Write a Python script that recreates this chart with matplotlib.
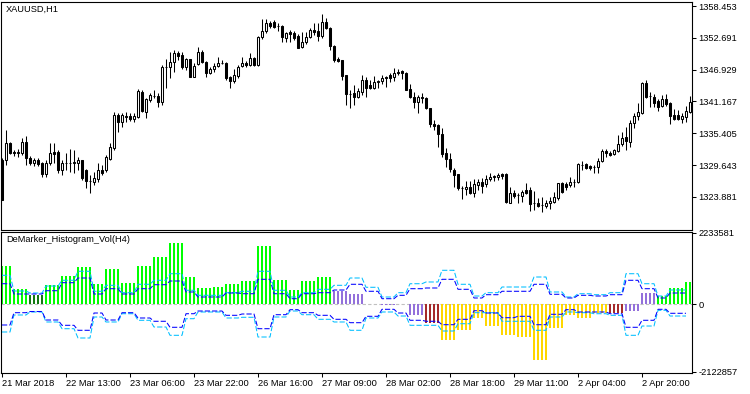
import matplotlib
matplotlib.use("Agg")
import matplotlib.pyplot as plt
import numpy as np

plt.rcParams['font.family'] = ['Liberation Sans', 'DejaVu Sans']
plt.rcParams['font.size'] = 6.7

# XAUUSD H1 candles (bar 0 = 21 Mar 2018)
opens = [1330.6, 1330.6, 1333.7, 1332.0, 1331.8, 1331.8, 1333.8, 1330.9, 1330.0, 1330.6,
         1330.0, 1328.0, 1330.0, 1332.0, 1332.0, 1328.8, 1330.0, 1330.0, 1330.0, 1330.0,
         1330.6, 1328.8, 1326.8, 1326.6, 1327.1, 1328.8, 1328.8, 1330.8, 1332.7, 1338.7,
         1337.5, 1338.4, 1338.5, 1338.0, 1338.4, 1342.9, 1339.3, 1341.4, 1342.2, 1342.2,
         1341.1, 1347.4, 1347.4, 1348.3, 1349.9, 1349.6, 1347.4, 1348.9, 1345.6, 1348.0,
         1350.1, 1348.3, 1346.3, 1347.1, 1347.6, 1348.1, 1348.1, 1345.6, 1344.9, 1345.8,
         1347.6, 1348.1, 1347.8, 1349.0, 1347.8, 1352.8, 1353.9, 1355.4, 1355.6, 1354.8,
         1354.8, 1352.7, 1353.7, 1353.6, 1353.0, 1351.0, 1351.9, 1352.8, 1354.1, 1353.9,
         1353.0, 1355.6, 1354.5, 1351.2, 1348.9, 1348.7, 1346.0, 1342.5, 1342.7, 1342.0,
         1342.9, 1345.1, 1344.2, 1343.6, 1344.7, 1344.9, 1345.6, 1346.0, 1345.6, 1346.5,
         1346.7, 1346.3, 1343.4, 1342.0, 1341.1, 1342.0, 1341.8, 1340.0, 1337.1, 1336.9,
         1335.3, 1331.8, 1330.8, 1328.8, 1328.0, 1325.5, 1325.3, 1325.7, 1324.6, 1326.1,
         1326.6, 1326.2, 1327.1, 1327.5, 1327.5, 1328.0, 1328.0, 1322.8, 1324.6, 1324.2,
         1324.1, 1325.2, 1325.2, 1322.8, 1322.8, 1322.4, 1322.2, 1322.8, 1323.0, 1323.7,
         1326.4, 1326.2, 1326.1, 1326.6, 1326.6, 1329.7, 1329.9, 1329.5, 1329.3, 1329.3,
         1330.4, 1332.2, 1331.8, 1331.7, 1332.2, 1333.5, 1334.7, 1333.8, 1337.3, 1338.5,
         1339.1, 1344.5, 1342.2, 1342.0, 1341.3, 1340.4, 1341.6, 1340.9, 1338.7, 1338.7,
         1338.0, 1338.4, 1339.3]
highs = [1330.9, 1336.0, 1333.8, 1332.4, 1332.6, 1334.6, 1334.9, 1331.3, 1330.9, 1330.9,
         1330.2, 1330.6, 1333.7, 1333.7, 1332.4, 1330.6, 1331.8, 1332.6, 1332.4, 1331.1,
         1330.6, 1328.9, 1327.9, 1328.4, 1330.0, 1329.7, 1331.5, 1333.7, 1339.3, 1339.1,
         1339.1, 1339.3, 1339.1, 1339.1, 1343.4, 1343.3, 1341.8, 1342.7, 1343.3, 1342.7,
         1347.8, 1348.9, 1350.1, 1350.5, 1350.3, 1350.1, 1349.0, 1348.9, 1348.1, 1351.0,
         1350.5, 1348.5, 1347.4, 1348.1, 1349.2, 1348.7, 1348.3, 1345.8, 1347.1, 1347.8,
         1349.2, 1348.5, 1349.9, 1349.2, 1353.0, 1356.1, 1356.1, 1355.7, 1355.9, 1355.4,
         1355.0, 1353.7, 1354.1, 1353.9, 1353.4, 1353.7, 1353.7, 1354.5, 1355.4, 1355.4,
         1357.0, 1356.3, 1354.7, 1351.4, 1349.2, 1348.7, 1346.0, 1343.3, 1344.2, 1343.6,
         1346.0, 1345.6, 1345.1, 1345.8, 1345.1, 1346.0, 1345.8, 1346.3, 1347.2, 1347.1,
         1346.9, 1346.5, 1344.3, 1342.9, 1342.3, 1342.7, 1342.0, 1340.0, 1337.8, 1337.1,
         1336.4, 1332.7, 1331.8, 1329.1, 1328.0, 1325.9, 1326.8, 1326.8, 1327.1, 1327.1,
         1327.3, 1327.9, 1328.2, 1327.9, 1328.2, 1328.2, 1328.2, 1325.7, 1325.2, 1324.6,
         1325.2, 1326.4, 1325.7, 1325.0, 1323.7, 1323.9, 1323.3, 1323.9, 1324.8, 1326.4,
         1326.6, 1326.6, 1327.5, 1327.1, 1330.0, 1330.4, 1330.0, 1329.7, 1329.7, 1330.9,
         1332.6, 1332.6, 1332.2, 1332.6, 1335.1, 1335.7, 1336.6, 1337.8, 1339.1, 1340.9,
         1344.7, 1345.1, 1342.9, 1342.5, 1341.6, 1342.3, 1342.5, 1341.1, 1339.8, 1339.6,
         1339.1, 1340.4, 1342.2]
lows = [1323.3, 1329.7, 1331.7, 1331.3, 1331.1, 1331.5, 1329.7, 1329.7, 1329.5, 1329.5,
        1327.5, 1327.5, 1329.7, 1330.0, 1328.2, 1327.9, 1328.8, 1328.4, 1328.2, 1328.8,
        1327.0, 1325.5, 1324.6, 1326.1, 1326.6, 1327.9, 1328.4, 1330.6, 1332.4, 1335.7,
        1336.6, 1337.5, 1337.6, 1337.5, 1338.2, 1339.3, 1338.2, 1341.1, 1341.8, 1340.2,
        1340.5, 1343.6, 1345.4, 1346.5, 1348.7, 1347.1, 1346.9, 1345.6, 1345.6, 1347.8,
        1348.1, 1345.6, 1346.1, 1346.5, 1347.4, 1348.0, 1345.1, 1343.6, 1344.5, 1345.4,
        1347.4, 1347.4, 1347.6, 1347.6, 1347.6, 1352.5, 1353.6, 1354.5, 1354.5, 1353.9,
        1351.9, 1351.9, 1351.9, 1352.3, 1350.9, 1350.9, 1351.6, 1352.7, 1353.2, 1352.1,
        1352.7, 1354.3, 1350.5, 1348.3, 1348.3, 1345.1, 1340.5, 1340.0, 1340.5, 1341.8,
        1342.3, 1342.0, 1343.4, 1343.4, 1343.6, 1344.3, 1343.8, 1344.7, 1344.9, 1346.0,
        1345.2, 1343.3, 1341.8, 1340.0, 1339.1, 1340.9, 1339.8, 1336.6, 1336.0, 1332.9,
        1331.1, 1329.3, 1328.4, 1325.7, 1325.2, 1323.5, 1324.2, 1324.4, 1323.9, 1325.2,
        1324.6, 1325.7, 1326.8, 1326.8, 1327.0, 1327.1, 1322.8, 1322.8, 1323.7, 1322.8,
        1323.0, 1324.4, 1321.4, 1321.5, 1322.1, 1321.2, 1321.9, 1321.7, 1322.8, 1323.3,
        1324.6, 1325.2, 1325.7, 1325.7, 1326.4, 1328.8, 1328.9, 1328.8, 1328.2, 1328.2,
        1330.2, 1331.1, 1331.3, 1331.5, 1332.0, 1333.1, 1332.4, 1332.9, 1336.4, 1337.8,
        1338.9, 1341.8, 1340.2, 1340.2, 1339.4, 1340.2, 1340.4, 1337.1, 1337.8, 1337.8,
        1337.3, 1337.5, 1339.1]
closes = [1323.3, 1333.7, 1331.8, 1331.8, 1332.0, 1333.8, 1330.9, 1330.0, 1330.6, 1329.9,
          1328.0, 1330.0, 1331.8, 1331.7, 1328.8, 1330.0, 1330.0, 1330.0, 1330.2, 1330.6,
          1327.3, 1326.8, 1326.8, 1327.3, 1328.8, 1328.2, 1331.1, 1332.9, 1338.7, 1337.5,
          1338.7, 1338.5, 1338.0, 1338.5, 1343.1, 1339.4, 1341.6, 1342.3, 1342.1, 1341.1,
          1347.4, 1347.4, 1348.3, 1349.9, 1349.4, 1347.4, 1348.9, 1345.6, 1347.6, 1350.1,
          1348.3, 1346.3, 1347.1, 1347.6, 1348.1, 1348.2, 1345.4, 1344.9, 1346.0, 1347.4,
          1348.1, 1347.8, 1349.0, 1347.8, 1352.8, 1353.9, 1355.4, 1354.8, 1354.7, 1354.9,
          1352.8, 1353.6, 1353.4, 1352.7, 1350.9, 1351.9, 1352.8, 1354.1, 1353.7, 1353.0,
          1355.6, 1354.5, 1351.2, 1348.7, 1348.5, 1345.8, 1342.5, 1342.5, 1342.0, 1343.1,
          1345.1, 1343.6, 1343.6, 1344.7, 1344.8, 1345.4, 1345.4, 1345.4, 1346.3, 1346.3,
          1346.3, 1343.3, 1342.0, 1341.1, 1342.0, 1341.8, 1340.0, 1337.1, 1336.7, 1335.3,
          1331.7, 1330.8, 1328.9, 1327.9, 1325.5, 1325.5, 1325.7, 1324.6, 1326.2, 1326.6,
          1325.9, 1327.1, 1327.5, 1327.6, 1327.9, 1327.7, 1323.0, 1324.6, 1324.1, 1324.2,
          1324.8, 1324.6, 1322.6, 1322.8, 1322.2, 1322.4, 1322.8, 1323.2, 1323.9, 1326.4,
          1324.8, 1325.7, 1326.6, 1326.6, 1329.9, 1329.7, 1329.1, 1329.1, 1329.3, 1330.4,
          1332.2, 1331.8, 1331.5, 1332.4, 1333.5, 1334.6, 1334.0, 1337.3, 1338.5, 1339.3,
          1344.5, 1342.0, 1342.2, 1340.9, 1340.2, 1341.6, 1340.7, 1338.5, 1338.0, 1338.0,
          1338.5, 1339.4, 1341.1]

price_ticks = [1358.453, 1352.691, 1346.929, 1341.167, 1335.405, 1329.643, 1323.881]

# DeMarker_Histogram_Vol(H4): one value per H4 block, number of H1 bars in each block
group_sizes = [3, 4, 4, 4, 4, 4, 3, 4, 4, 4,
               4, 4, 3, 4, 3, 4, 4, 4, 4, 3,
               4, 4, 4, 4, 4, 4, 3, 4, 4, 4,
               4, 3, 4, 4, 4, 4, 4, 3, 4, 4,
               4, 4, 4, 3, 4, 2]
hist_vals = [1180000, 470000, 291000, 585000, 867000, 1149000, 626000, 1096000, 657000, 1180000,
             1471000, 1909000, 836000, 501000, 523000, 626000, 729000, 1825000, 761000, 448000,
             729000, 845000, 398000, 313000, 0, -25000, 0, -354000, -595000, -1117000,
             -804000, -438000, -673000, -961000, -1033000, -1768000, -736000, -354000, -432000, -297000,
             -297000, -210000, 354000, 250000, 501000, 689000]
hist_cols = ['#00FF00', '#00FF00', '#127A12'] + ['#00FF00'] * 19 + ['#9370DB'] * 6 + \
            ['#A52A2A'] + ['#FFD700'] * 11 + ['#A52A2A'] + ['#9370DB'] * 2 + ['#00FF00'] * 3
up_level1 = [635000, 313000, 313000, 416000, 667000, 814000, 313000, 479000, 313000, 479000,
             604000, 720000, 376000, 219000, 219000, 344000, 322000, 773000, 322000, 166000,
             322000, 354000, 438000, 617000, 398000, 166000, 272000, 479000, 501000, 773000,
             460000, 188000, 291000, 398000, 398000, 617000, 304000, 188000, 272000, 250000,
             291000, 742000, 479000, 188000, 344000, 344000]
up_level2 = [898000, 407000, 344000, 563000, 742000, 1024000, 398000, 585000, 354000, 617000,
             742000, 948000, 429000, 272000, 272000, 354000, 398000, 1024000, 429000, 219000,
             354000, 460000, 585000, 814000, 523000, 219000, 354000, 635000, 689000, 1055000,
             617000, 250000, 354000, 532000, 532000, 845000, 376000, 219000, 322000, 291000,
             354000, 948000, 635000, 250000, 438000, 438000]
dn_level1 = [-657000, -272000, -235000, -501000, -667000, -823000, -282000, -501000, -272000, -438000,
             -541000, -729000, -304000, -219000, -219000, -354000, -313000, -773000, -335000, -178000,
             -272000, -354000, -479000, -585000, -385000, -166000, -282000, -510000, -541000, -648000,
             -479000, -210000, -282000, -429000, -385000, -648000, -322000, -178000, -250000, -250000,
             -304000, -729000, -510000, -166000, -291000, -291000]
dn_level2 = [-876000, -344000, -250000, -563000, -773000, -1064000, -407000, -563000, -304000, -510000,
             -720000, -980000, -460000, -250000, -250000, -438000, -416000, -1033000, -407000, -219000,
             -335000, -479000, -563000, -823000, -438000, -250000, -376000, -667000, -667000, -845000,
             -617000, -272000, -272000, -541000, -541000, -823000, -407000, -250000, -272000, -304000,
             -354000, -980000, -689000, -197000, -376000, -376000]
ind_ticks = [2233581, 0, -2122857]

time_pos = [0, 16, 32, 48, 64, 80, 96, 112, 128, 144, 160]
time_labels = ['21 Mar 2018', '22 Mar 13:00', '23 Mar 06:00', '23 Mar 22:00', '26 Mar 16:00',
               '27 Mar 09:00', '28 Mar 02:00', '28 Mar 18:00', '29 Mar 11:00', '2 Apr 04:00',
               '2 Apr 20:00']

W, H = 750, 394
fig = plt.figure(figsize=(W / 100, H / 100), dpi=100)
fig.patch.set_facecolor('white')

ax1 = fig.add_axes([1 / W, 1 - 229.5 / H, 691 / W, 228 / H])
ax2 = fig.add_axes([1 / W, 1 - 373 / H, 691 / W, 141.5 / H])

x = np.arange(len(opens))
o = np.array(opens)
c = np.array(closes)

# candles
ax1.vlines(x, lows, highs, color='black', linewidth=0.75, zorder=2)
bull = c > o
body_bot = np.minimum(o, c)
body_h = np.abs(c - o)
ax1.bar(x, body_h, bottom=body_bot, width=0.5,
        color=np.where(bull, 'white', 'black'), edgecolor='black', linewidth=0.75, zorder=3)

ax1.set_xlim(-0.25, 172.5)
ax1.set_ylim(1317.99, 1359.27)
ax1.yaxis.tick_right()
ax1.set_yticks(price_ticks)
ax1.set_yticklabels([f'{t:.3f}' for t in price_ticks])
ax1.tick_params(axis='y', direction='out', length=3, width=0.75, pad=1.5, colors='black')
ax1.tick_params(axis='x', bottom=False, labelbottom=False)
ax1.text(5 / 691, 1 - 8 / 228, 'XAUUSD,H1', transform=ax1.transAxes, ha='left', va='center')

# indicator
hist = np.repeat(hist_vals, group_sizes)
cols = np.repeat(hist_cols, group_sizes)
ax2.axhline(0, color='#C0C0C0', linestyle=(0, (3, 2)), linewidth=0.8, zorder=1)
ax2.bar(x, hist, width=0.62, color=cols, linewidth=0, antialiased=False, zorder=2)

n_line = len(opens) - 1
for vals, col in [(up_level2, '#00BFFF'), (up_level1, '#0000FF'),
                  (dn_level2, '#00BFFF'), (dn_level1, '#0000FF')]:
    y = np.repeat(vals, group_sizes)
    ax2.plot(x[:n_line], y[:n_line], color=col, linewidth=0.75,
             dashes=(5, 2), zorder=3)

ax2.set_xlim(-0.25, 172.5)
ax2.set_ylim(-2159700, 2269250)
ax2.yaxis.tick_right()
ax2.set_yticks(ind_ticks)
ax2.set_yticklabels([str(t) for t in ind_ticks])
ax2.set_xticks(time_pos)
ax2.set_xticklabels(time_labels)
for lab in ax2.get_xticklabels():
    lab.set_horizontalalignment('left')
ax2.tick_params(axis='both', direction='out', length=3, width=0.75, pad=1.5, colors='black')
ax2.text(5 / 691, 1 - 8.5 / 141.5, 'DeMarker_Histogram_Vol(H4)', transform=ax2.transAxes,
         ha='left', va='center')

for ax in (ax1, ax2):
    for sp in ax.spines.values():
        sp.set_linewidth(0.8)
        sp.set_color('black')

fig.savefig('out.png', dpi=100)
